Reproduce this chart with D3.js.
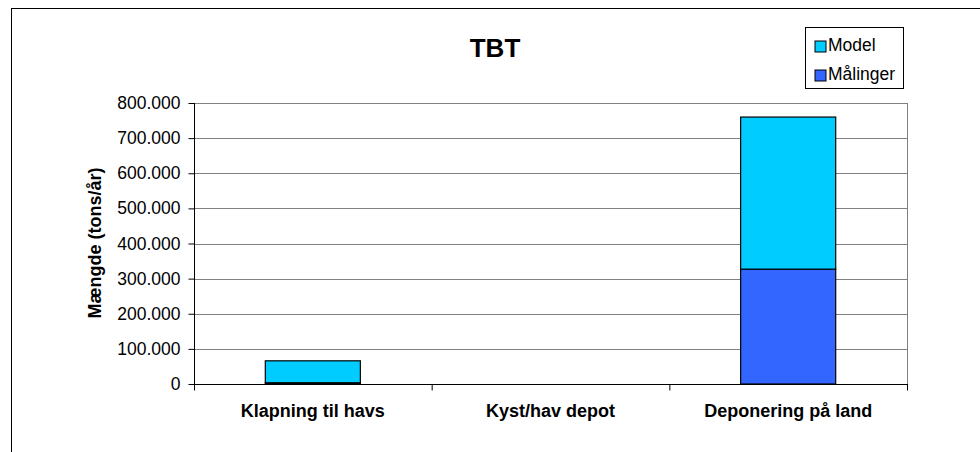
<!DOCTYPE html>
<html>
<head>
<meta charset="utf-8">
<script src="https://cdn.jsdelivr.net/npm/d3@7"></script>
<style>
  body { margin: 0; background: #fff; }
  svg { display: block; font-family: "Liberation Sans", Arial, sans-serif; }
</style>
</head>
<body>
<div id="chart"></div>
<script>
  // data
  let categories = ['Klapning til havs', 'Kyst/hav depot', 'Deponering på land'];
  let maalinger = [3500, 0, 327000];
  let model = [62500, 0, 433000];
  let seriesNames = ['Målinger', 'Model'];
  let yTicks = [0, 100000, 200000, 300000, 400000, 500000, 600000, 700000, 800000];

  let width = 980, height = 452;
  let plot = { left: 194, right: 907, top: 103, bottom: 384 };
  let colors = { 'Målinger': '#3366ff', 'Model': '#00ccff' };

  let svg = d3.select('#chart')
    .append('svg')
    .attr('width', width)
    .attr('height', height);

  // outer frame (runs off the right and bottom edge)
  svg.append('rect')
    .attr('x', 11.5).attr('y', 8.5)
    .attr('width', 1000).attr('height', 1000)
    .attr('fill', 'none').attr('stroke', '#000');

  let x = d3.scaleBand()
    .domain(categories)
    .range([plot.left, plot.right])
    .padding(0);

  let y = d3.scaleLinear()
    .domain([0, 800000])
    .range([plot.bottom, plot.top]);

  let fmt = function(d) { return d3.format(',')(d).replace(/,/g, '.'); };

  // grid lines
  svg.append('g')
    .selectAll('line')
    .data(yTicks.slice(1))
    .enter().append('line')
      .attr('x1', plot.left).attr('x2', plot.right)
      .attr('y1', function(d) { return Math.round(y(d)) + 0.5; })
      .attr('y2', function(d) { return Math.round(y(d)) + 0.5; })
      .attr('stroke', '#808080');

  // right border of plot area
  svg.append('line')
    .attr('x1', plot.right + 0.5).attr('x2', plot.right + 0.5)
    .attr('y1', plot.top).attr('y2', plot.bottom)
    .attr('stroke', '#808080');

  // stacked bars
  let rows = categories.map(function(c, i) {
    return { cat: c, 'Målinger': maalinger[i], 'Model': model[i] };
  });
  let stack = d3.stack().keys(seriesNames)(rows);
  let barW = x.bandwidth() * 0.4;

  svg.append('g')
    .selectAll('g')
    .data(stack)
    .enter().append('g')
      .attr('fill', function(d) { return colors[d.key]; })
    .selectAll('rect')
    .data(function(d) { return d.filter(function(p) { return p[1] > p[0]; }); })
    .enter().append('rect')
      .attr('x', function(d) { return x(d.data.cat) + (x.bandwidth() - barW) / 2; })
      .attr('y', function(d) { return y(d[1]); })
      .attr('width', barW)
      .attr('height', function(d) { return y(d[0]) - y(d[1]); })
      .attr('stroke', '#000')
      .attr('stroke-width', 1.2);

  // y axis
  let yAxis = svg.append('g')
    .attr('transform', 'translate(' + (plot.left + 0.5) + ',0)')
    .call(d3.axisLeft(y).tickValues(yTicks).tickFormat(fmt).tickSize(6).tickPadding(8));
  yAxis.select('.domain').attr('d', 'M0,' + plot.top + 'V' + (plot.bottom + 6));
  yAxis.selectAll('text')
    .attr('font-size', '17.5px')
    .attr('font-family', '"Liberation Sans", Arial, sans-serif')
    .attr('fill', '#000');

  // x axis
  let xAxis = svg.append('g')
    .attr('transform', 'translate(0,' + (plot.bottom + 0.5) + ')');
  xAxis.append('line')
    .attr('x1', plot.left).attr('x2', plot.right + 1)
    .attr('stroke', '#000');
  xAxis.selectAll('.tick')
    .data(categories.concat(['end']))
    .enter().append('line')
      .attr('x1', function(d, i) { return i < categories.length ? x(d) + 0.5 : plot.right + 0.5; })
      .attr('x2', function(d, i) { return i < categories.length ? x(d) + 0.5 : plot.right + 0.5; })
      .attr('y1', 0).attr('y2', 6)
      .attr('stroke', '#000');
  xAxis.selectAll('text')
    .data(categories)
    .enter().append('text')
      .attr('x', function(d) { return x(d) + x.bandwidth() / 2; })
      .attr('y', 32)
      .attr('text-anchor', 'middle')
      .attr('font-size', '18px')
      .attr('font-weight', 'bold')
      .text(function(d) { return d; });

  // axis title
  svg.append('text')
    .attr('transform', 'translate(101,243) rotate(-90)')
    .attr('text-anchor', 'middle')
    .attr('font-size', '18px')
    .attr('font-weight', 'bold')
    .text('Mængde (tons/år)');

  // chart title
  svg.append('text')
    .attr('x', 495).attr('y', 57)
    .attr('text-anchor', 'middle')
    .attr('font-size', '26px')
    .attr('font-weight', 'bold')
    .text('TBT');

  // legend
  let legend = svg.append('g');
  legend.append('rect')
    .attr('x', 805.5).attr('y', 27.5)
    .attr('width', 98).attr('height', 61)
    .attr('fill', '#fff').attr('stroke', '#000');
  let legendItems = ['Model', 'Målinger'];
  let li = legend.selectAll('g.item')
    .data(legendItems)
    .enter().append('g')
      .attr('transform', function(d, i) { return 'translate(815,' + (41 + i * 29) + ')'; });
  li.append('rect')
    .attr('width', 11).attr('height', 11)
    .attr('fill', function(d) { return colors[d]; })
    .attr('stroke', '#000');
  li.append('text')
    .attr('x', 13).attr('y', 10)
    .attr('font-size', '17.5px')
    .text(function(d) { return d; });
</script>
</body>
</html>
